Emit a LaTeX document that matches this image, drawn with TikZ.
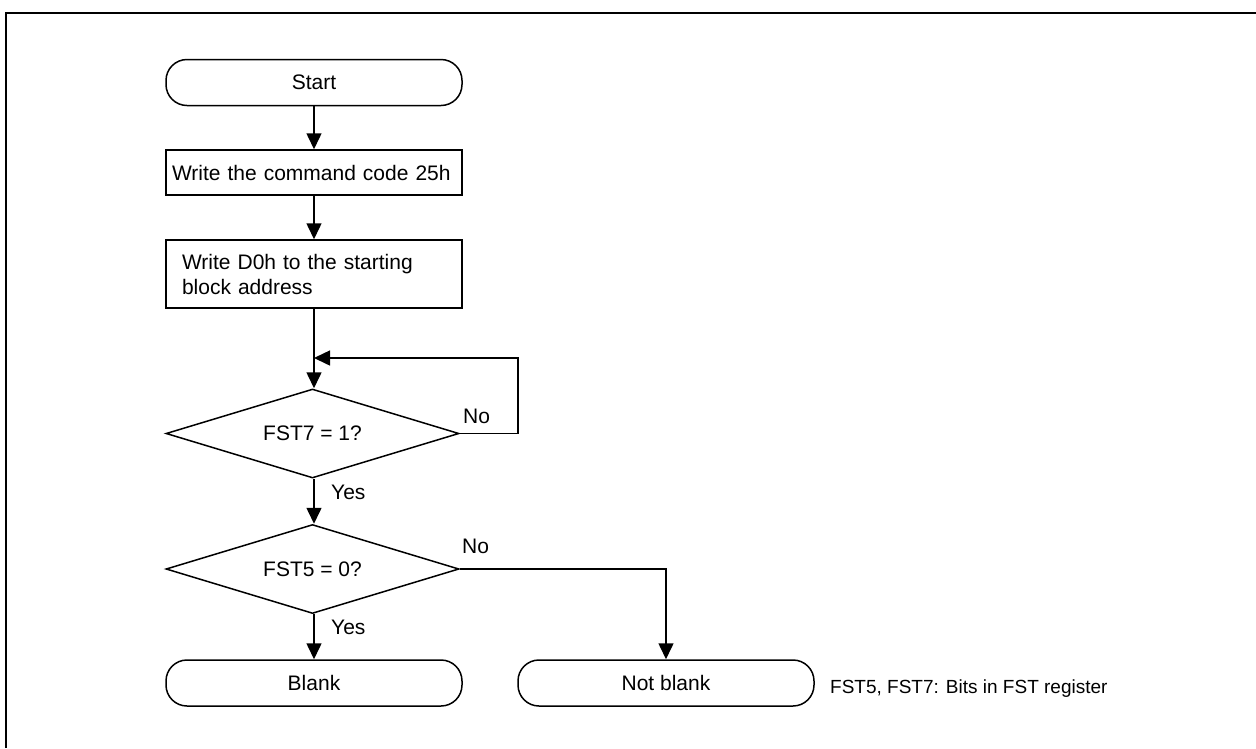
\documentclass[tikz,border=0pt]{standalone}
\usepackage{fontspec}
\setmainfont{Liberation Sans}
\usetikzlibrary{shapes.geometric,arrows.meta}
\begin{document}
\begin{tikzpicture}[x=1pt,y=-1pt,
  every node/.style={font=\fontsize{21}{25}\selectfont},
  term/.style={draw,line width=1.5pt,rounded corners=21pt,minimum width=296pt,minimum height=46pt,inner sep=0pt},
  proc/.style={draw,line width=1.5pt,minimum width=296pt,inner ysep=0pt,align=left},
  dec/.style={draw,line width=1.5pt,diamond,aspect=3.3,minimum width=293pt,minimum height=89pt,inner sep=0pt},
  conn/.style={line width=1.5pt,-{Triangle[length=16pt,width=15pt]}},
  lbl/.style={inner sep=0pt}
]
\useasboundingbox (0,0) rectangle (1256,748);
\draw[line width=2.5pt] (6,748) -- (6,13) -- (1256,13);

\node[term] (start) at (314,82.5) {Start};
\node[proc,minimum height=45pt,text width=284pt,inner xsep=6pt] (b1) at (314,172.5) {Write the command code 25h};
\node[proc,minimum height=68pt,text width=264pt,inner xsep=16pt] (b2) at (314,274) {Write D0h to the starting\\block address};
\node[dec] (d1) at (312.5,433.5) {FST7 = 1?};
\node[dec] (d2) at (312.5,569) {FST5 = 0?};
\node[term] (blank) at (314,683) {Blank};
\node[term] (nblank) at (666,683) {Not blank};
\node[lbl,anchor=base west] (note) at (830,693) {\fontsize{19}{22}\selectfont FST5, FST7: Bits in FST register};

\coordinate (j) at (314,358);
\coordinate (r1) at (518,358);

\draw[conn] (start.south) -- (b1.north);
\draw[conn] (b1.south) -- (b2.north);
\draw[conn] (b2.south) -- (b2.south |- d1.north);
\draw[conn] (d1.east) -| (r1) -- (j);
\draw[conn] (d1.south -| b2.south) -- (b2.south |- d2.north);
\draw[conn] (d2.south -| b2.south) -- (blank.north);
\draw[conn] (d2.east) -| (nblank.north);

\node[lbl,anchor=west] (no1) at (463,416) {No};
\node[lbl,anchor=west] (yes1) at (331,492) {Yes};
\node[lbl,anchor=west] (no2) at (462,546) {No};
\node[lbl,anchor=west] (yes2) at (331,627) {Yes};
\end{tikzpicture}
\end{document}
